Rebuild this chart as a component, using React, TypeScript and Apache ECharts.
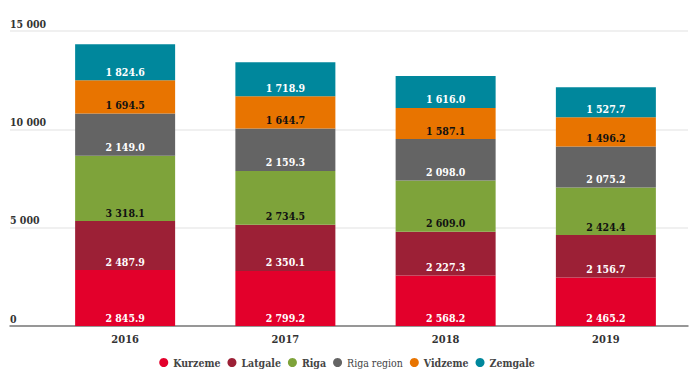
import React, { useEffect, useRef } from "react";
import * as echarts from "echarts";

const years = ["2016", "2017", "2018", "2019"];
const seriesNames = ["Kurzeme", "Latgale", "Riga", "Riga region", "Vidzeme", "Zemgale"];
const kurzeme = [2845.9, 2799.2, 2568.2, 2465.2];
const latgale = [2487.9, 2350.1, 2227.3, 2156.7];
const riga = [3318.1, 2734.5, 2609.0, 2424.4];
const rigaRegion = [2149.0, 2159.3, 2098.0, 2075.2];
const vidzeme = [1694.5, 1644.7, 1587.1, 1496.2];
const zemgale = [1824.6, 1718.9, 1616.0, 1527.7];
const yTicks = { min: 0, max: 15000, interval: 5000 };

const colors = ["#e3002b", "#9c2036", "#7ea33a", "#646464", "#e87400", "#00879c"];
const labelColors = ["#ffffff", "#ffffff", "#111111", "#ffffff", "#111111", "#ffffff"];
const FONT = "'DejaVu Serif Condensed', 'DejaVu Serif', serif";

const fmtNum = (v: number, dec: number) => {
  const s = v.toFixed(dec);
  const [i, d] = s.split(".");
  const ii = i.replace(/\B(?=(\d{3})+(?!\d))/g, " ");
  return d ? ii + "." + d : ii;
};

export default function App() {
  const ref = useRef<HTMLDivElement>(null);
  useEffect(() => {
    if (!ref.current) return;
    const chart = echarts.init(ref.current, null, { renderer: "svg" });
    const allData = [kurzeme, latgale, riga, rigaRegion, vidzeme, zemgale];
    chart.setOption({
      animation: false,
      textStyle: { fontFamily: FONT },
      grid: [
        { left: 10, right: 6, top: 31, bottom: 48 },
        { left: 45, right: 8, top: 31, bottom: 48 },
      ],
      legend: {
        bottom: 1,
        left: "center",
        icon: "circle",
        itemWidth: 9,
        itemHeight: 9,
        itemGap: 7,
        data: seriesNames,
        textStyle: {
          fontFamily: FONT,
          fontSize: 10.5,
          fontWeight: "bold",
          color: "#444",
          rich: {
            n: { fontFamily: FONT, fontSize: 10.5, fontWeight: "normal", color: "#444" },
          },
        },
        formatter: (name: string) => (name === "Riga region" ? "{n|" + name + "}" : name),
      },
      xAxis: [
        {
          gridIndex: 0,
          type: "value",
          min: 0,
          max: 1,
          axisLine: { show: true, onZero: false, lineStyle: { color: "#7a7a7a", width: 1.5 } },
          axisTick: { show: false },
          axisLabel: { show: false },
          splitLine: { show: false },
        },
        {
          gridIndex: 1,
          type: "category",
          data: years,
          axisLine: { show: false },
          axisTick: { show: false },
          axisLabel: {
            margin: 8,
            fontFamily: FONT,
            fontSize: 11,
            fontWeight: "bold",
            color: "#333",
          },
        },
      ],
      yAxis: [
        {
          gridIndex: 0,
          type: "value",
          min: yTicks.min,
          max: yTicks.max,
          interval: yTicks.interval,
          axisLine: { show: false },
          axisTick: { show: false },
          splitLine: { lineStyle: { color: "#ebebeb", width: 1.5 } },
          axisLabel: {
            inside: true,
            margin: 0,
            align: "left",
            verticalAlign: "bottom",
            padding: [0, 0, 2, 0],
            fontFamily: FONT,
            fontSize: 10.5,
            fontWeight: "bold",
            color: "#333",
            formatter: (v: number) => fmtNum(v, 0),
          },
        },
        {
          gridIndex: 1,
          type: "value",
          min: yTicks.min,
          max: yTicks.max,
          interval: yTicks.interval,
          show: false,
          splitLine: { show: false },
        },
      ],
      series: seriesNames.map((name, i) => ({
        name,
        type: "bar",
        stack: "total",
        xAxisIndex: 1,
        yAxisIndex: 1,
        barWidth: 100,
        data: allData[i],
        itemStyle: { color: colors[i] },
        label: {
          show: true,
          position: "insideBottom",
          distance: 3,
          fontFamily: FONT,
          fontSize: 10.5,
          fontWeight: "bold",
          color: labelColors[i],
          formatter: (p: any) => fmtNum(p.value, 1),
        },
      })),
    });
    return () => chart.dispose();
  }, []);
  return (
    <div
      ref={ref}
      style={{ position: "fixed", left: 0, top: 0, width: 694, height: 374, background: "#fff" }}
    />
  );
}
